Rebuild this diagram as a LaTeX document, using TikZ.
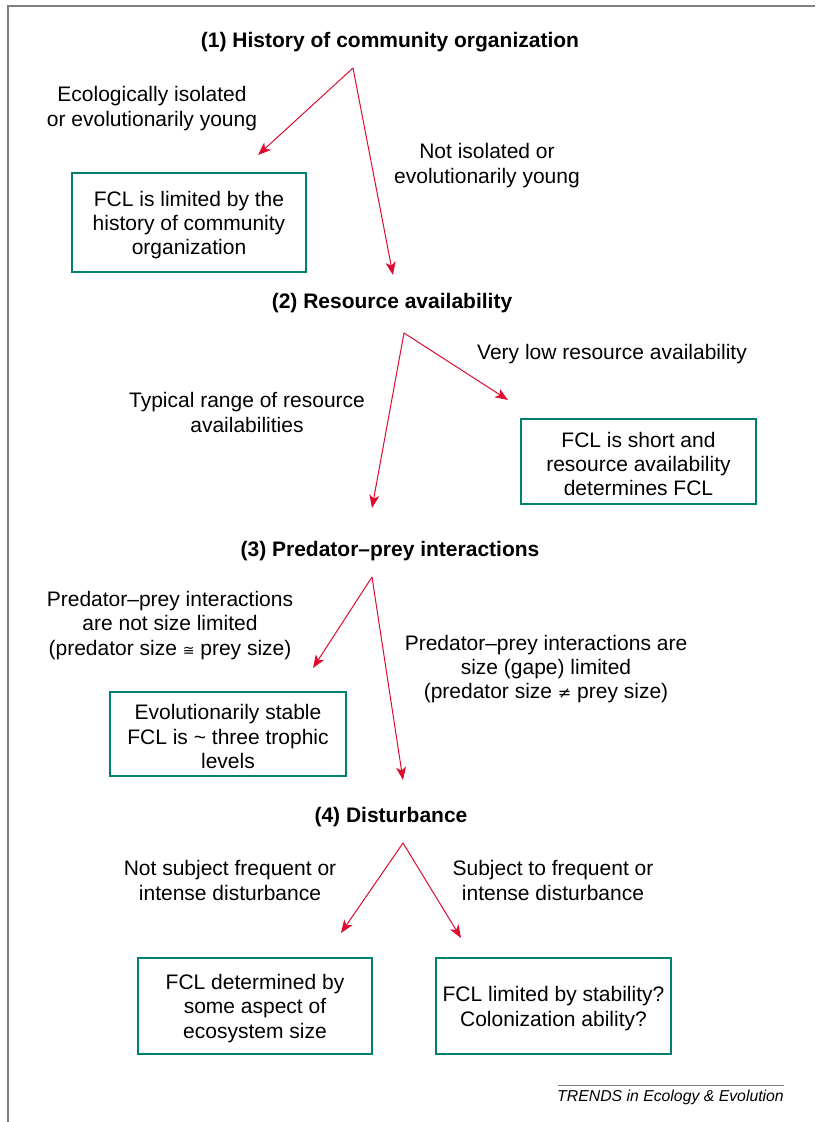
\documentclass[tikz,border=0pt]{standalone}
\usepackage{fontspec}
\setmainfont{Liberation Sans}
\newfontfamily\symfont{DejaVu Sans}
\usetikzlibrary{arrows.meta}
\definecolor{arrowred}{RGB}{222,10,48}
\definecolor{boxteal}{RGB}{0,128,110}
\definecolor{framegray}{RGB}{128,128,128}
\tikzset{
  every node/.style={font=\fontsize{21}{24.3}\selectfont, align=center, inner sep=0pt},
  lbl/.style={yshift=-2.5pt},
  title/.style={font=\fontsize{21}{24.3}\selectfont\bfseries, yshift=-2pt},
  outbox/.style={draw=boxteal, line width=1.1pt},
  branch/.style={draw=arrowred, line width=1pt, -{Stealth[length=13pt,width=10pt,inset=3.5pt]}},
}
\begin{document}
\begin{tikzpicture}[x=1pt,y=-1pt]
\useasboundingbox (0,0) rectangle (815,1122);
% frame
\draw[framegray, line width=1.6pt] (8,1122) -- (8,6) -- (815,6);

% level 1
\node[title] (t1) at (390,40) {(1) History of community organization};
\coordinate (a1) at (353,68);
\coordinate (e1l) at (258,155);
\coordinate (e1r) at (393,275);
\draw[branch] (a1) -- (e1l);
\draw[branch] (a1) -- (e1r);
\node[lbl] (l1l) at (152,106) {Ecologically isolated\\or evolutionarily young};
\node[lbl] (l1r) at (487,163) {Not isolated or\\evolutionarily young};
\node[outbox, minimum width=234pt, minimum height=99pt] (b1) at (189,222.5) {};
\node[lbl] (b1t) at (b1.center) {FCL is limited by the\\history of community\\organization};

% level 2
\node[title] (t2) at (392,301) {(2) Resource availability};
\coordinate (a2) at (404,333);
\coordinate (e2l) at (372,508);
\coordinate (e2r) at (508,400);
\draw[branch] (a2) -- (e2l);
\draw[branch] (a2) -- (e2r);
\node[lbl] (l2l) at (247,410) {Typical range of resource\\availabilities};
\node[lbl] (l2r) at (612,352) {Very low resource availability};
\node[outbox, minimum width=235pt, minimum height=85pt] (b2) at (638.5,461.5) {};
\node[lbl] (b2t) at (b2.center) {FCL is short and\\resource availability\\determines FCL};

% level 3
\node[title] (t3) at (390,549) {(3) Predator--prey interactions};
\coordinate (a3) at (372,577);
\coordinate (e3l) at (313,668);
\coordinate (e3r) at (403,780);
\draw[branch] (a3) -- (e3l);
\draw[branch] (a3) -- (e3r);
\node[lbl] (l3l) at (170,623) {Predator--prey interactions\\are not size limited\\(predator size {\symfont\fontsize{14}{14}\selectfont ≅} prey size)};
\node[lbl] (l3r) at (546,666.5) {Predator--prey interactions are\\size (gape) limited\\(predator size {\symfont\fontsize{16}{16}\selectfont ≠} prey size)};
\node[outbox, minimum width=236pt, minimum height=84pt] (b3) at (228,734) {};
\node[lbl] (b3t) at (b3.center) {Evolutionarily stable\\FCL is \textasciitilde\ three trophic\\levels};

% level 4
\node[title] (t4) at (391,815) {(4) Disturbance};
\coordinate (a4) at (403,843);
\coordinate (e4l) at (341,933);
\coordinate (e4r) at (461,938);
\draw[branch] (a4) -- (e4l);
\draw[branch] (a4) -- (e4r);
\node[lbl] (l4l) at (230,878) {Not subject frequent or\\intense disturbance};
\node[lbl] (l4r) at (553,878) {Subject to frequent or\\intense disturbance};
\node[outbox, minimum width=234pt, minimum height=96pt] (b4) at (255,1006) {};
\node[lbl] (b4t) at (b4.center) {FCL determined by\\some aspect of\\ecosystem size};
\node[outbox, minimum width=235pt, minimum height=96pt] (b5) at (553.5,1006) {};
\node[lbl] (b5t) at (b5.center) {FCL limited by stability?\\Colonization ability?};

% footer
\coordinate (fl) at (558,1085);
\coordinate (fr) at (784,1085);
\draw[framegray, line width=1pt] (fl) -- (fr);
\node[anchor=east, font=\fontsize{15.8}{17}\selectfont\itshape] (ft) at (784,1097) {TRENDS in Ecology \& Evolution};
\end{tikzpicture}
\end{document}
